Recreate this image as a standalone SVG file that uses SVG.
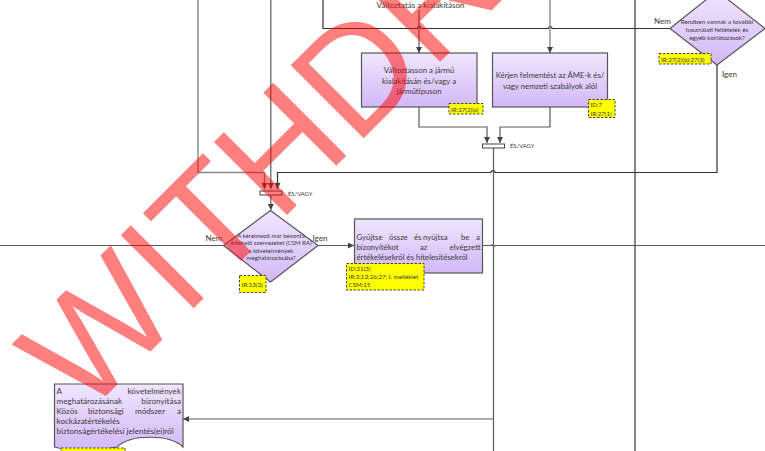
<svg xmlns="http://www.w3.org/2000/svg" width="765" height="451" viewBox="0 0 765 451">
<style>
text{font-family:Lato,"Liberation Sans",sans-serif;fill:#3a3a3a}
.c{fill:none;stroke:#5a5a5a;stroke-width:1.2}
.g{fill:none;stroke:#888;stroke-width:1.4}
.d{fill:none;stroke:#333;stroke-width:1.2}
.n{fill:url(#pg);stroke:#555;stroke-width:1.2}
.y{fill:#ff0;stroke:#333;stroke-width:.9;stroke-dasharray:2.5 1.5}
.t{font-size:7.8px;text-anchor:middle}
.j{font-size:7.8px}
.b{font-size:8.1px}
.e{text-anchor:end}
.s{font-size:6.1px;text-anchor:middle}
.l{font-size:8px}
.a{font-size:6.2px}
.v{font-size:5.8px}
.bar{fill:#fff;stroke:#444;stroke-width:1}
</style>
<defs>
<linearGradient id="pg" x1="0" y1="0" x2="0" y2="1"><stop offset="0" stop-color="#f0e6ff"/><stop offset="1" stop-color="#d2b8f6"/></linearGradient>
<marker id="ar" markerWidth="7" markerHeight="7" refX="6" refY="3" orient="auto" markerUnits="userSpaceOnUse"><path d="M0 0L6 3L0 6Z" fill="#444"/></marker>
</defs>
<rect width="765" height="451" fill="#fff"/>
<g id="connectors">
<path class="g" d="M198 0V172.500H264.500V189" marker-end="url(#ar)"/>
<path class="c" d="M270.800 0V189" marker-end="url(#ar)"/>
<path class="d" d="M277.500 189V172.500H491C491 170 495 170 495 172.500H717V65"/>
<path class="d" d="M277.500 182V189" marker-end="url(#ar)"/>
<path class="d" d="M323 0V28.500H417.500C417.500 26 421 26 421 28.500H548.500C548.500 26 552 26 552 28.500H670"/>
<path class="c" d="M419 10V53" marker-end="url(#ar)"/>
<path class="g" d="M550 0V53" marker-end="url(#ar)"/>
<path class="d" d="M635 0V451" stroke-width="1.4"/>
<path class="c" d="M419 107V127H487V143" marker-end="url(#ar)"/>
<path class="c" d="M550 107V127H500V143" marker-end="url(#ar)"/>
<path class="c" d="M493.500 147V451"/>
<path class="c" d="M270.800 195V210" marker-end="url(#ar)"/>
<path class="c" d="M0 245.500H224"/>
<path class="c" d="M318 245.500H354" marker-end="url(#ar)"/>
<path class="c" d="M482 245.500H491C491 243 495 248 495 245.500H765"/>
<path class="c" d="M493.500 419H183" marker-end="url(#ar)"/>
</g>
<g id="bar1"><rect class="bar" x="482.500" y="144" width="22" height="4"/><text class="v" x="510" y="148">ÉS/VAGY</text></g>
<g id="bar2"><rect class="bar" x="260" y="191" width="22" height="4"/><text class="v" x="288" y="196">ÉS/VAGY</text></g>
<text class="l" x="376.500" y="8">Változtatás a kialakításon</text>
<g id="box1"><rect class="n" x="361.500" y="53" width="115.500" height="54"/>
<text class="t"><tspan x="419" y="73">Változtasson a jármű</tspan><tspan x="419" y="83.500">kialakításán és/vagy a</tspan><tspan x="419" y="93.500">járműtípuson</tspan></text>
<rect class="y" x="449" y="103.500" width="34" height="10.500"/><text class="a" x="451" y="111.500">IR:27(2)(a)</text></g>
<g id="box2"><rect class="n" x="492.500" y="53" width="115" height="54"/>
<text class="t"><tspan x="550" y="78">Kérjen felmentést az ÁME-k és/</tspan><tspan x="550" y="88.500">vagy nemzeti szabályok alól</tspan></text>
<rect class="y" x="588.500" y="99.500" width="26.500" height="18"/><text class="a"><tspan x="590.500" y="107">ID:7</tspan><tspan x="590.500" y="115.500">IR:27(1)</tspan></text></g>
<g id="dec1"><path class="n" d="M670 28.500L717 -9L765 28.500L717 65Z"/>
<text class="s" style="font-size:6.3px"><tspan x="717" y="24">Rendben vannak a további</tspan><tspan x="717" y="32">használati feltételek és</tspan><tspan x="717" y="40">egyéb korlátozások?</tspan></text>
<rect class="y" x="659" y="53.500" width="52" height="10.500"/><text class="a" x="661" y="61.500">IR:27(2)(b);27(3)</text>
<text class="l" x="654" y="24">Nem</text><text class="l" x="722" y="76.500">Igen</text></g>
<g id="dec2"><path class="n" d="M223.500 245.500L270.500 210.500L318 245.500L270.500 282Z"/>
<text class="s"><tspan x="271" y="237.500">A kérelmező már bevonta</tspan><tspan x="271" y="245">értékelő szervezetet (CSM RA)</tspan><tspan x="271" y="252.500">a követelmények</tspan><tspan x="271" y="260">meghatározásába?</tspan></text>
<rect class="y" x="239.500" y="275.500" width="26.500" height="17"/><text class="a" x="241.500" y="287">IR:13(3)</text>
<text class="l" x="205.500" y="241">Nem</text><text class="l" x="312.500" y="241">Igen</text></g>
<g id="box3"><rect class="n" x="354.500" y="219" width="128" height="54"/>
<text class="j" y="239.500"><tspan x="356.500">Gyűjtse</tspan><tspan x="389">össze</tspan><tspan x="414">és</tspan><tspan x="423">nyújtsa</tspan><tspan x="461">be</tspan><tspan x="476">a</tspan></text>
<text class="j" y="249.500"><tspan x="356.500">bizonyítékot</tspan><tspan x="420">az</tspan></text><text class="j e" x="480.500" y="249.500">elvégzett</text>
<text class="j" x="356.500" y="259.500">értékelésekről és hitelesítésekről</text>
<rect class="y" x="346.500" y="263.500" width="77.500" height="26.500"/><text class="a"><tspan x="348.500" y="271">ID:21(3)</tspan><tspan x="348.500" y="279">IR:3;13;26;27; I. melléklet</tspan><tspan x="348.500" y="287">CSM:15</tspan></text></g>
<g id="doc1"><path class="n" d="M54.500 384H183V447C170 434 130 434 117 447C95 451 75 453 54.500 447Z"/>
<text class="b" x="56.500" y="393.500">A</text><text class="b e" x="181" y="393.500">követelmények</text>
<text class="b" x="56.500" y="403.500">meghatározásának</text><text class="b e" x="181" y="403.500">bizonyítása</text>
<text class="b" y="414"><tspan x="56.500">Közös</tspan><tspan x="88">biztonsági</tspan><tspan x="135">módszer</tspan></text><text class="b e" x="181" y="414">a</text>
<text class="b" x="56.500" y="424">kockázatértékelés</text>
<text class="b" x="56.500" y="434">biztonságértékelési jelentés(ei)ről</text>
<rect class="y" x="61" y="448" width="64" height="10"/></g>
<text id="watermark" x="0" y="0" transform="translate(84 418) rotate(-45)" style="font-family:'Liberation Sans',sans-serif;font-size:150px;fill:#f00;fill-opacity:.5">WITHDRAWN</text>
</svg>
